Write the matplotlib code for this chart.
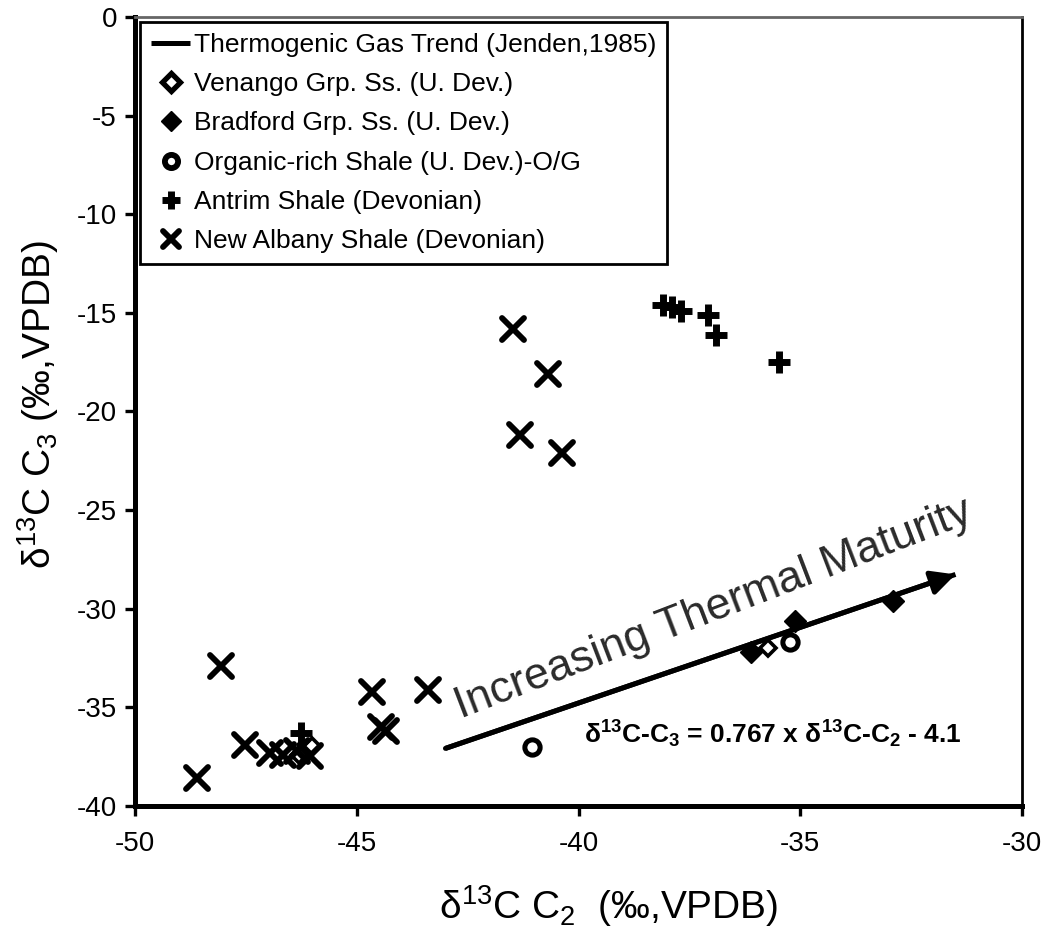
import matplotlib
matplotlib.use("Agg")
import matplotlib.pyplot as plt
from matplotlib.markers import MarkerStyle

plt.rcParams['font.family'] = ['Liberation Sans', 'DejaVu Sans']
plt.rcParams['mathtext.fontset'] = 'custom'
plt.rcParams['mathtext.rm'] = 'Liberation Sans'
plt.rcParams['mathtext.it'] = 'Liberation Sans:italic'
plt.rcParams['mathtext.bf'] = 'Liberation Sans:bold'
plt.rcParams['axes.unicode_minus'] = False

# trend line (Jenden, 1985): d13C-C3 = 0.767 * d13C-C2 - 4.1
trend_slope = 0.767
trend_intercept = -4.1
trend_x = [-43.0, -31.5]
trend_y = [trend_slope * v + trend_intercept for v in trend_x]

venango_c2 = [-35.72, -46.3, -46.0]
venango_c3 = [-32.0, -37.4, -36.95]

bradford_c2 = [-32.9, -35.12, -36.1]
bradford_c3 = [-29.6, -30.6, -32.2]

organic_c2 = [-41.05, -35.23]
organic_c3 = [-37.0, -31.7]

antrim_c2 = [-38.1, -37.9, -37.68, -37.07, -36.89, -35.49, -46.25]
antrim_c3 = [-14.6, -14.7, -14.9, -15.1, -16.1, -17.5, -36.3]

albany_c2 = [-41.47, -40.68, -41.32, -40.38, -48.06, -48.6, -47.52,
             -46.96, -46.66, -46.35, -46.05, -44.66, -43.39, -44.45, -44.35]
albany_c3 = [-15.8, -18.1, -21.2, -22.1, -32.9, -38.6, -36.9,
             -37.3, -37.4, -37.2, -37.45, -34.2, -34.1, -36.0, -36.2]

labels = ['Thermogenic Gas Trend (Jenden,1985)',
          'Venango Grp. Ss. (U. Dev.)',
          'Bradford Grp. Ss. (U. Dev.)',
          'Organic-rich Shale (U. Dev.)-O/G',
          'Antrim Shale (Devonian)',
          'New Albany Shale (Devonian)']

fig = plt.figure(figsize=(10.45, 9.35), dpi=100)
ax = fig.add_axes([0.1292, 0.138, 0.8488, 0.8438])

ax.plot(trend_x, trend_y, color='black', lw=3.6, solid_capstyle='butt', label=labels[0])
ax.annotate('', xy=(trend_x[1], trend_y[1]), xytext=(trend_x[0], trend_y[0]),
            arrowprops=dict(arrowstyle='-|>', color='black', lw=3.6,
                            mutation_scale=36, shrinkA=0, shrinkB=0))

ax.plot(venango_c2, venango_c3, ls='none', marker='D', ms=8, mfc='white',
        mec='black', mew=2.6, label=labels[1])
ax.plot(bradford_c2, bradford_c3, ls='none', marker='D', ms=11, mfc='black',
        mec='black', mew=1, label=labels[2])
ax.plot(organic_c2, organic_c3, ls='none', marker='o', ms=11, mfc='white',
        mec='black', mew=3.6, label=labels[3])
ax.plot(antrim_c2, antrim_c3, ls='none', marker='+', ms=16.5, mec='black',
        mew=5, label=labels[4])
ax.plot(albany_c2, albany_c3, ls='none', marker=MarkerStyle('x', capstyle='round'),
        ms=16, mec='black', mew=4.2, label=labels[5])

ax.text(-36.95, -30.05, 'Increasing Thermal Maturity', fontsize=32,
        rotation=21, rotation_mode='anchor', ha='center', va='center', color='#2a2a2a')
ax.text(-39.88, -36.85,
        'δ$^{\\mathbf{13}}$C-C$_{\\mathbf{3}}$ = 0.767 x δ$^{\\mathbf{13}}$C-C$_{\\mathbf{2}}$ - 4.1',
        fontsize=19, fontweight='bold', ha='left', va='baseline')

ax.set_xlim(-50, -30)
ax.set_ylim(-40, 0)
ax.set_xticks([-50, -45, -40, -35, -30])
ax.set_yticks(range(-40, 1, 5))

for side in ['left', 'bottom']:
    ax.spines[side].set_linewidth(3.6)
    ax.spines[side].set_color('black')
ax.spines['top'].set_linewidth(2)
ax.spines['top'].set_color('#666666')
ax.spines['right'].set_linewidth(2)
ax.spines['right'].set_color('black')

ax.tick_params(axis='both', which='major', direction='out', length=7, width=2.4,
               labelsize=20, colors='black')
ax.tick_params(axis='x', pad=11)
ax.tick_params(axis='y', pad=6)

ax.set_xlabel('δ$^{13}$C C$_2$  (‰,VPDB)', fontsize=28)
ax.set_ylabel('δ$^{13}$C C$_3$ (‰,VPDB)', fontsize=28)
ax.xaxis.set_label_coords(0.534, -0.098)
ax.yaxis.set_label_coords(-0.083, 0.508)

leg = ax.legend(loc='upper left', bbox_to_anchor=(0, 1), borderaxespad=0.2,
                fontsize=19, handlelength=1.5, handletextpad=0.15,
                labelspacing=0.58, borderpad=0.4, fancybox=False,
                edgecolor='black', framealpha=1)
leg.get_frame().set_linewidth(2)
# legend symbols are drawn a bit smaller than the plotted ones
handle_sizes = [None, (9, 3.8), (10.5, 1), (9.5, 4.2), (13.5, 5), (12, 4.2)]
for h, s in zip(leg.legend_handles, handle_sizes):
    if s is not None:
        h.set_markersize(s[0])
        h.set_markeredgewidth(s[1])

fig.savefig('out.png', dpi=100)
